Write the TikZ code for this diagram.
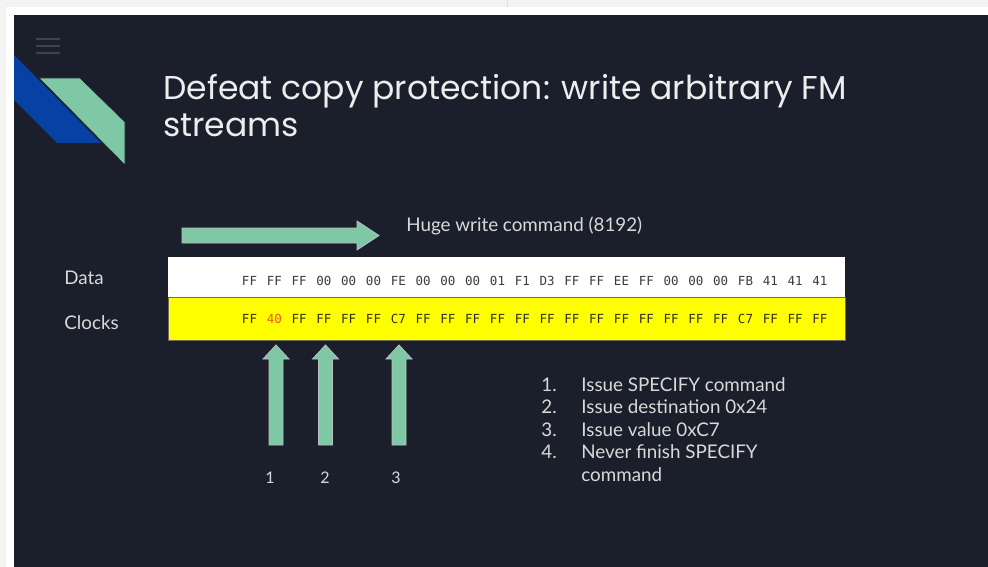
\documentclass[tikz,border=0pt]{standalone}
\usepackage{fontspec}
\setmainfont{Lato}
\newfontfamily\titlefont{Poppins}
\newfontfamily\hexfont{DejaVu Sans Mono}
\usetikzlibrary{positioning,calc}

\definecolor{slidebg}{HTML}{1B1F2B}
\definecolor{pagegrey}{HTML}{F3F3F3}
\definecolor{mintgreen}{HTML}{7FC8A6}
\definecolor{logoblue}{HTML}{0641A3}
\definecolor{arrowedge}{HTML}{B9C2BE}
\definecolor{menugrey}{HTML}{3A4254}
\definecolor{slidetext}{HTML}{D9D9D9}
\definecolor{titletext}{HTML}{EDEDED}
\definecolor{hexgrey}{HTML}{3C3C3C}
\definecolor{hexdark}{HTML}{303010}
\definecolor{hexred}{HTML}{F0532B}
\definecolor{clockyellow}{HTML}{FFFF00}

\tikzset{every picture/.style={line width=0.75pt}}
\tikzset{
  blockarrow/.style={fill=mintgreen, draw=arrowedge, line width=0.8pt},
  bodytext/.style={text=slidetext, inner sep=0pt, font=\fontsize{18.8}{22}\selectfont},
  hexbyte/.style={inner sep=0pt, font=\hexfont\fontsize{12.5}{14}\selectfont}
}

\begin{document}
\begin{tikzpicture}[x=1pt, y=-1pt]

    % --- page and slide ---
    \useasboundingbox (0,0) rectangle (988,567);
    \fill[white] (0,0) rectangle (988,567);
    \fill[pagegrey] (0,0) rectangle (988,7);
    \fill[pagegrey] (0,0) rectangle (6,567);
    \draw[gray!25, line width=0.5pt] (507,0) -- (507,7);
    \fill[slidebg] (14,15) rectangle (988,567);

    % menu icon
    \foreach \y in {39, 46, 53} {
        \draw[menugrey, line width=1.8pt] (36,\y) -- (60,\y);
    }

    % logo
    \fill[logoblue] (14,55) -- (101,143) -- (57,143) -- (14,100) -- cycle;
    \filldraw[fill=mintgreen, draw=slidebg, line width=0.6pt]
        (39,78) -- (80,78) -- (125,122) -- (125,165) -- cycle;

    % --- title ---
    \node[anchor=base west, inner sep=0pt, text=titletext,
          font=\titlefont\fontsize{33}{37}\selectfont] (title1) at (163,100)
        {Defeat copy protection: write arbitrary FM};
    \node[anchor=base west, inner sep=0pt, text=titletext,
          font=\titlefont\fontsize{33}{37}\selectfont] (title2) at (163,137)
        {streams};

    % --- write command arrow ---
    \draw[blockarrow] (182,228) -- (357,228) -- (357,221) -- (379,235.5)
        -- (357,250) -- (357,243) -- (182,243) -- cycle;
    \node[bodytext, anchor=west] (huge) at (406,226) {Huge write command (8192)};

    % --- data and clock bytes ---
    \fill[white] (168,257) rectangle (845,297);
    \filldraw[fill=clockyellow, draw=hexdark!70, line width=0.6pt] (168,297) rectangle (845,340);
    \node[bodytext, anchor=west] (datalbl) at (64,278) {Data};
    \node[bodytext, anchor=west] (clocklbl) at (64,323) {Clocks};

    \foreach \b [count=\i] in {FF,FF,FF,00,00,00,FE,00,00,00,01,F1,D3,FF,FF,EE,FF,00,00,00,FB,41,41,41} {
        \pgfmathsetmacro{\px}{249.5+(\i-1)*24.8}
        \node[hexbyte, text=hexgrey] (d\i) at (\px,280.5) {\b};
    }
    \foreach \b [count=\i] in {FF,40,FF,FF,FF,FF,C7,FF,FF,FF,FF,FF,FF,FF,FF,FF,FF,FF,FF,FF,C7,FF,FF,FF} {
        \pgfmathsetmacro{\px}{249.5+(\i-1)*24.8}
        \ifnum\i=2 \def\col{hexred}\else\def\col{hexdark}\fi
        \node[hexbyte, text=\col] (c\i) at (\px,319) {\b};
    }

    % --- marker arrows ---
    \foreach \x/\lx/\n in {276/270/1, 325.5/325/2, 399/396/3} {
        \draw[blockarrow] ({\x-7},445) -- ({\x-7},359) -- ({\x-13},359) -- (\x,345)
            -- ({\x+13},359) -- ({\x+7},359) -- ({\x+7},445) -- cycle;
        \node[bodytext, font=\fontsize{16}{18}\selectfont] (n\n) at (\lx,478) {\n};
    }

    % --- steps ---
    \foreach \t [count=\i] in {Issue SPECIFY command, Issue destination 0x24,
                               Issue value 0xC7, Never finish SPECIFY} {
        \pgfmathsetmacro{\py}{391+(\i-1)*22.6}
        \node[bodytext, anchor=base west] (num\i) at (541,\py) {\i.};
        \node[bodytext, anchor=base west] (step\i) at (581,\py) {\t};
    }
    \node[bodytext, anchor=base west] (step4b) at (581,481.5) {command};

\end{tikzpicture}
\end{document}
